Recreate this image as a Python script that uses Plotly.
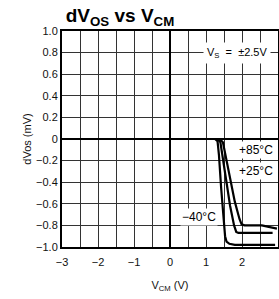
import plotly.graph_objects as go

# Data
x_m40 = [-3.0, 1.25, 1.32, 1.36, 1.42, 1.48, 1.53, 1.57, 1.65, 1.8, 2.92]
y_m40 = [0.0, 0.0, -0.02, -0.15, -0.45, -0.75, -0.90, -0.95, -0.97, -0.98, -0.98]

x_p25 = [-3.0, 1.32, 1.40, 1.46, 1.56, 1.67, 1.78, 1.84, 1.90, 2.85]
y_p25 = [0.0, 0.0, -0.03, -0.15, -0.38, -0.62, -0.80, -0.86, -0.87, -0.87]

x_p85 = [-3.0, 1.38, 1.47, 1.54, 1.66, 1.80, 1.93, 1.99, 2.07, 2.55, 2.97]
y_p85 = [0.0, 0.0, -0.03, -0.15, -0.36, -0.58, -0.74, -0.79, -0.80, -0.80, -0.83]

x_ticks = [-3, -2, -1, 0, 1, 2, 3]
x_ticktext = ["−3", "−2", "−1", "0", "1", "2", "3"]
y_ticks = [1.0, 0.8, 0.6, 0.4, 0.2, 0.0, -0.2, -0.4, -0.6, -0.8, -1.0]
y_ticktext = ["1.0", "0.8", "0.6", "0.4", "0.2", "0", "−0.2", "−0.4", "−0.6", "−0.8", "−1.0"]

labels = ["+85°C", "+25°C", "−40°C"]
label_x = [2.38, 2.40, 0.80]
label_y = [-0.10, -0.30, -0.72]

FONT = "Liberation Sans, Arial, sans-serif"

fig = go.Figure()
for xs, ys in [(x_m40, y_m40), (x_p25, y_p25), (x_p85, y_p85)]:
    fig.add_trace(go.Scatter(x=xs, y=ys, mode="lines",
                             line=dict(color="black", width=2.2),
                             showlegend=False, hoverinfo="skip"))

for t, lx, ly in zip(labels, label_x, label_y):
    fig.add_annotation(x=lx, y=ly, text=t, showarrow=False,
                       font=dict(family=FONT, size=12, color="black"),
                       bgcolor="white", borderpad=1)

fig.add_annotation(x=1.86, y=0.8, text="V<sub>S</sub>  =  ±2.5V", showarrow=False,
                   font=dict(family=FONT, size=11, color="black"),
                   bgcolor="white", borderpad=3)

fig.update_layout(
    width=279, height=299,
    margin=dict(l=62, r=1, t=31, b=52, autoexpand=False),
    paper_bgcolor="white", plot_bgcolor="white",
    font=dict(family=FONT, size=11, color="#111"),
    title=dict(text="<b>dV<sub>OS</sub> vs V<sub>CM</sub></b>",
               font=dict(family=FONT, size=19, color="black"),
               x=0.43, xanchor="center", y=0.95, yanchor="middle"),
    xaxis=dict(range=[-3, 3], tickvals=x_ticks, ticktext=x_ticktext,
               showgrid=True, gridcolor="#333", gridwidth=1,
               minor=dict(dtick=0.5, tick0=0, showgrid=True, gridcolor="#333", gridwidth=1),
               zeroline=True, zerolinecolor="black", zerolinewidth=2,
               showline=True, linecolor="black", linewidth=2, mirror=True,
               ticks="", ticklabelstandoff=4,
               title=dict(text="V<sub>CM</sub> (V)", standoff=14,
                          font=dict(family=FONT, size=11))),
    yaxis=dict(range=[-1, 1], tickvals=y_ticks, ticktext=y_ticktext,
               showgrid=True, gridcolor="#333", gridwidth=1,
               zeroline=True, zerolinecolor="black", zerolinewidth=2,
               showline=True, linecolor="black", linewidth=2, mirror=True,
               ticks="", title=dict(text="dVos (mV)", standoff=2,
                                    font=dict(family=FONT, size=11))),
)

fig.write_html("out.html", config={"displayModeBar": False},
               post_script="document.body.style.margin='0';")
